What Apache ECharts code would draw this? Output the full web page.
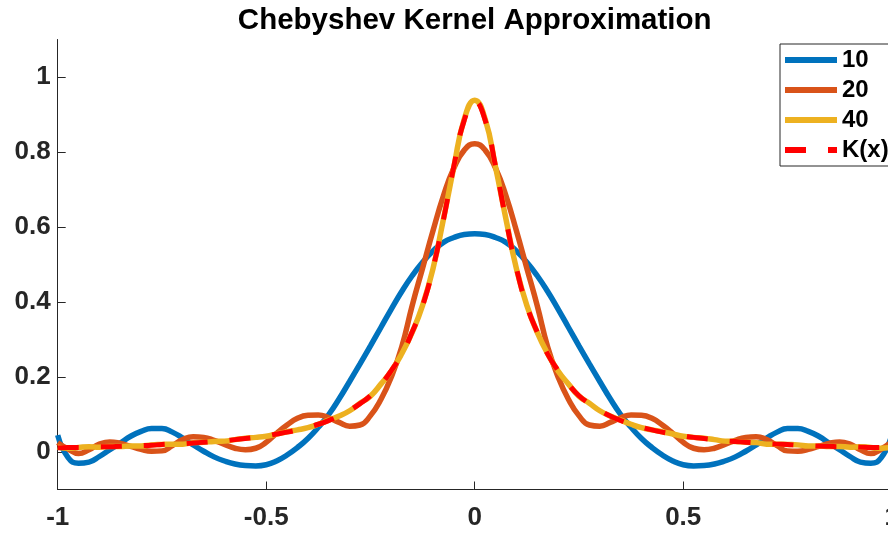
<!DOCTYPE html>
<html><head><meta charset="utf-8">
<script src="https://cdn.jsdelivr.net/npm/echarts@6/dist/echarts.min.js"></script>
<style>html,body{margin:0;padding:0;background:#fff}#c{width:888px;height:534px}</style>
</head><body><div id="c"></div>
<script>
const chartTitle = 'Chebyshev Kernel Approximation';
const seriesNames = ['10', '20', '40', 'K(x)'];
const xs = [-1,-0.975,-0.95,-0.925,-0.9,-0.875,-0.85,-0.825,-0.8,-0.775,-0.75,-0.725,-0.7,-0.675,-0.65,-0.625,-0.6,-0.575,-0.55,-0.525,-0.5,-0.475,-0.45,-0.425,-0.4,-0.375,-0.35,-0.325,-0.3,-0.275,-0.25,-0.225,-0.2,-0.175,-0.15,-0.125,-0.1,-0.075,-0.05,-0.025,0,
  0.025,0.05,0.075,0.1,0.125,0.15,0.175,0.2,0.225,0.25,0.275,0.3,0.325,0.35,0.375,0.4,0.425,0.45,0.475,0.5,0.525,0.55,0.575,0.6,0.625,0.65,0.675,0.7,0.725,0.75,0.775,0.8,0.825,0.85,0.875,0.9,0.925,0.95,0.975,1];
const approx10 = [0.045,-0.015,-0.030,-0.027,-0.012,0.006,0.024,0.042,0.055,0.063,0.063,0.053,0.037,0.019,0.002,-0.013,-0.024,-0.032,-0.036,-0.037,-0.034,-0.024,-0.008,0.012,0.036,0.066,0.100,0.142,0.188,0.235,0.283,0.332,0.381,0.428,0.470,0.506,0.536,0.559,0.572,0.580,0.582,
  0.580,0.572,0.559,0.536,0.506,0.470,0.428,0.381,0.332,0.283,0.235,0.188,0.142,0.100,0.066,0.036,0.012,-0.008,-0.024,-0.034,-0.037,-0.036,-0.032,-0.024,-0.013,0.002,0.019,0.037,0.053,0.063,0.063,0.055,0.042,0.024,0.006,-0.012,-0.027,-0.030,-0.015,0.045];
const approx20 = [0.025,0.008,-0.004,0.006,0.021,0.027,0.023,0.015,0.007,0.002,0.003,0.017,0.033,0.041,0.039,0.031,0.020,0.010,0.006,0.010,0.026,0.050,0.072,0.090,0.098,0.099,0.091,0.079,0.069,0.072,0.097,0.140,0.200,0.280,0.390,0.490,0.590,0.683,0.757,0.805,0.822,
  0.805,0.757,0.683,0.590,0.490,0.390,0.280,0.200,0.140,0.097,0.072,0.069,0.079,0.091,0.099,0.098,0.090,0.072,0.050,0.026,0.010,0.006,0.010,0.020,0.031,0.039,0.041,0.033,0.017,0.003,0.002,0.007,0.015,0.023,0.027,0.021,0.006,-0.004,0.008,0.027];
const approx40 = [0.013,0.010,0.012,0.014,0.013,0.015,0.015,0.016,0.016,0.019,0.020,0.021,0.021,0.025,0.026,0.028,0.029,0.033,0.037,0.039,0.042,0.048,0.054,0.059,0.065,0.074,0.085,0.096,0.110,0.130,0.149,0.181,0.216,0.262,0.319,0.391,0.489,0.621,0.760,0.888,0.938,
  0.888,0.760,0.621,0.489,0.391,0.319,0.262,0.216,0.181,0.149,0.130,0.110,0.096,0.085,0.074,0.065,0.059,0.054,0.048,0.042,0.039,0.037,0.033,0.029,0.028,0.026,0.025,0.021,0.021,0.020,0.019,0.016,0.016,0.015,0.015,0.013,0.014,0.012,0.010,0.013];
const kernel = [0.011,0.012,0.012,0.013,0.014,0.014,0.015,0.016,0.017,0.018,0.020,0.021,0.022,0.024,0.026,0.028,0.030,0.033,0.036,0.039,0.043,0.048,0.053,0.059,0.066,0.074,0.084,0.096,0.111,0.129,0.150,0.180,0.217,0.261,0.320,0.390,0.490,0.619,0.762,0.885,0.935,
  0.885,0.762,0.619,0.490,0.390,0.320,0.261,0.217,0.180,0.150,0.129,0.111,0.096,0.084,0.074,0.066,0.059,0.053,0.048,0.043,0.039,0.036,0.033,0.030,0.028,0.026,0.024,0.022,0.021,0.020,0.018,0.017,0.016,0.015,0.014,0.014,0.013,0.012,0.012,0.011];
const xTicks = [-1, -0.5, 0, 0.5, 1];
const yTicks = [0, 0.2, 0.4, 0.6, 0.8, 1];

const colors = ['#0072BD', '#D95319', '#EDB120', '#FF0000'];
const font = "'Liberation Sans', Arial, Helvetica, sans-serif";
const axisColor = '#262626';
const pair = ys => xs.map((x, i) => [x, ys[i]]);
const allY = [approx10, approx20, approx40, kernel];

const chart = echarts.init(document.getElementById('c'), null, {renderer: 'canvas'});
chart.setOption({
  animation: false,
  backgroundColor: '#fff',
  title: {
    text: chartTitle, left: 474.7, top: 6, padding: 0, textAlign: 'center',
    textStyle: {fontFamily: font, fontWeight: 'bold', fontSize: 29.5, color: '#000'}
  },
  grid: {left: 57.7, top: 39.5, width: 834, height: 450, containLabel: false, outerBoundsMode: 'none'},
  legend: {
    orient: 'vertical', left: 780, top: 44, padding: [4, 1, 4, 2],
    itemWidth: 52, itemHeight: 6, itemGap: 6,
    backgroundColor: '#fff', borderColor: axisColor, borderWidth: 1,
    textStyle: {fontFamily: font, fontWeight: 'bold', fontSize: 24, color: '#000'},
    itemStyle: {opacity: 0},
    lineStyle: {width: 6},
    data: seriesNames
  },
  xAxis: {
    type: 'value', min: -1, max: 1,
    axisLine: {onZero: false, lineStyle: {color: axisColor, width: 1}},
    axisTick: {inside: true, length: 8, customValues: xTicks, lineStyle: {color: axisColor}},
    axisLabel: {customValues: xTicks, margin: 15, color: axisColor, fontFamily: font, fontWeight: 'bold', fontSize: 26},
    splitLine: {show: false}
  },
  yAxis: {
    type: 'value', min: -0.1, max: 1.1,
    axisLine: {show: true, onZero: false, lineStyle: {color: axisColor, width: 1}},
    axisTick: {show: true, inside: true, length: 8, customValues: yTicks, lineStyle: {color: axisColor}},
    axisLabel: {customValues: yTicks, margin: 7, padding: [4, 0, 0, 0], color: axisColor, fontFamily: font, fontWeight: 'bold', fontSize: 26},
    splitLine: {show: false}
  },
  series: seriesNames.map((name, i) => ({
    name: name, type: 'line', data: pair(allY[i]),
    symbol: 'none', showSymbol: false, smooth: true,
    color: colors[i],
    lineStyle: {color: colors[i], width: i === 3 ? 5 : 5.5, type: i === 3 ? [21, 22] : 'solid'},
    z: 2 + i
  }))
});
</script></body></html>
